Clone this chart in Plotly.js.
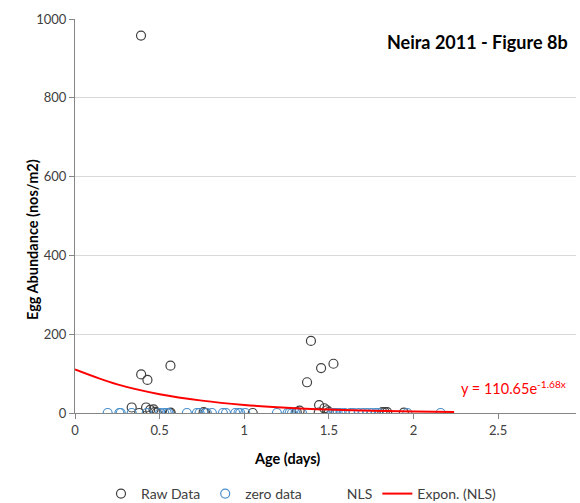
<!DOCTYPE html>
<html><head><meta charset="utf-8">
<script src="https://cdn.plot.ly/plotly-3.0.1.min.js"></script>
<style>html,body{margin:0;padding:0;background:#fff}#chart{width:580px;height:503px}</style>
</head><body><div id="chart"></div>
<script>
const rawX = [0.39, 0.391, 0.428, 0.564, 0.335, 0.379, 0.42, 0.444, 0.464, 0.473, 0.483, 0.56, 0.565, 0.76, 0.77, 1.05, 1.394, 1.527, 1.454, 1.371, 1.442, 1.473, 1.49, 1.327, 1.31, 1.44, 1.50, 1.816, 1.83, 1.844, 1.943];
const rawY = [958, 98, 84, 120, 14, 0, 14, 8, 9, 3, 1, 0, 1, 2, 0, 0, 183, 125, 114, 78, 20, 12, 7, 6, 2, 1, 2, 2, 2, 2, 1];
const zeroX = [0.193, 0.262, 0.27, 0.335, 0.424, 0.503, 0.527, 0.542, 0.552, 0.661, 0.72, 0.736, 0.779, 0.809, 0.874, 0.892, 0.947, 0.966, 0.976, 1.006,
  1.193, 1.256, 1.268, 1.282, 1.302, 1.341, 1.519, 1.528, 1.538, 1.552, 1.568, 1.593, 1.627, 1.647, 1.676, 1.702, 1.726, 1.75, 1.775, 1.795, 1.963, 2.16];
const zeroY = zeroX.map(() => 0);
const fitX = [0, 0.25, 0.5, 0.75, 1.0, 1.25, 1.5, 1.75, 2.0, 2.24];
const fitY = [110.65, 72.7, 47.8, 31.4, 20.6, 13.6, 8.9, 5.85, 3.84, 2.57];
const xTicks = [0, 0.5, 1, 1.5, 2, 2.5];
const xTickText = ["0", "0.5", "1", "1.5", "2", "2.5"];
const yTicks = [0, 200, 400, 600, 800, 1000];
const yTickText = ["0", "200", "400", "600", "800", "1000"];

const FONT = "Lato, 'Open Sans', sans-serif";
const traces = [
  {x: rawX, y: rawY, name: "Raw Data", type: "scatter", mode: "markers",
   marker: {symbol: "circle-open", size: 9, color: "#404040", line: {width: 1.2}}},
  {x: zeroX, y: zeroY, name: "zero data", type: "scatter", mode: "markers",
   marker: {symbol: "circle-open", size: 9, color: "#4a8fca", line: {width: 1.2}}},
  {x: [null], y: [null], name: "NLS", type: "scatter", mode: "lines",
   line: {color: "rgba(0,0,0,0)", width: 0}},
  {x: fitX, y: fitY, name: "Expon. (NLS)", type: "scatter", mode: "lines",
   line: {color: "#ff0000", width: 2, shape: "spline"}}
];
const pw = 580 - 75 - 4, ph = 503 - 19 - 90;
function px(xp) { return (xp - 75) / pw; }
function py(yp) { return (503 - 90 - yp) / ph; }
const layout = {
  width: 580, height: 503,
  margin: {l: 75, r: 4, t: 19, b: 90, autoexpand: false},
  paper_bgcolor: "#fff", plot_bgcolor: "#fff",
  font: {family: FONT, size: 13, color: "#404040"},
  showlegend: true,
  legend: {orientation: "h", x: px(101), xanchor: "left", y: py(494), yanchor: "middle",
           font: {family: FONT, size: 14, color: "#404040"}, itemwidth: 30},
  xaxis: {range: [0, 2.96], tickvals: xTicks, ticktext: xTickText, showgrid: false,
          zeroline: false, showline: true, linecolor: "#868686", linewidth: 1,
          ticks: "outside", ticklen: 5, tickcolor: "#868686",
          tickfont: {family: FONT, size: 13, color: "#404040"}},
  yaxis: {range: [0, 1000], tickvals: yTicks, ticktext: yTickText, showgrid: true,
          gridcolor: "#d9d9d9", gridwidth: 1, zeroline: false, showline: true,
          linecolor: "#868686", linewidth: 1, ticks: "outside", ticklen: 5, tickcolor: "#868686",
          tickfont: {family: FONT, size: 13, color: "#404040"}},
  annotations: [
    {text: "<b>Neira 2011 - Figure 8b</b>", x: px(477), y: py(42),
     xanchor: "center", yanchor: "middle", showarrow: false,
     font: {family: FONT, size: 18, color: "#000"}},
    {text: "<b>Age (days)</b>", x: px(287), y: py(458), showarrow: false, xanchor: "center", yanchor: "middle",
     font: {family: FONT, size: 14.5, color: "#000"}},
    {text: "<b>Egg Abundance (nos/m2)</b>", x: px(33), y: py(240), showarrow: false, textangle: -90,
     xanchor: "center", yanchor: "middle", font: {family: FONT, size: 14.5, color: "#000"}},
    {text: "y = 110.65e<sup>-1.68x</sup>", x: px(459), y: py(387), showarrow: false, xanchor: "left", yanchor: "middle",
     font: {family: FONT, size: 14.5, color: "#ff0000"}}
  ]
};
for (const a of layout.annotations) { a.xref = "paper"; a.yref = "paper"; }
Plotly.newPlot("chart", traces, layout, {displayModeBar: false});
</script></body></html>
